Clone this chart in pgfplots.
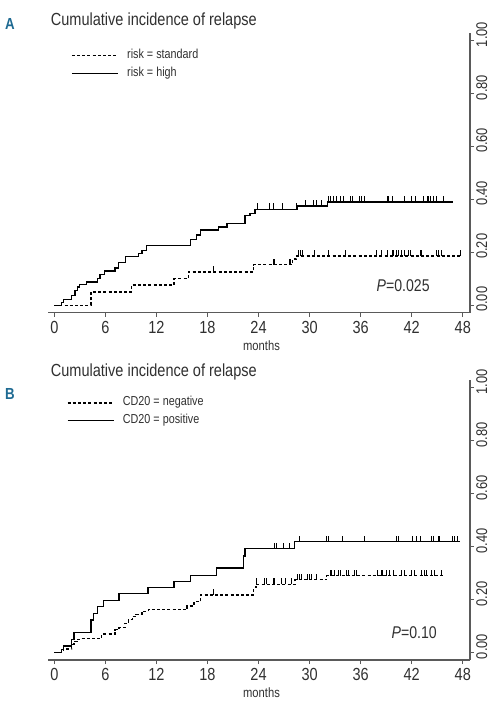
\documentclass[border=0pt]{standalone}
\usepackage{fontspec}
\setmainfont[FakeStretch=0.83]{Liberation Sans}
\usepackage{pgfplots}
\pgfplotsset{compat=1.18}
\definecolor{axgray}{HTML}{5A5A5A}
\definecolor{txtgray}{HTML}{303030}
\definecolor{panelblue}{HTML}{1E6A92}

\pgfdeclareplotmark{cens}{\pgfpathmoveto{\pgfpointorigin}\pgfpathlineto{\pgfpoint{0pt}{6pt}}\pgfusepathqstroke}

\pgfplotsset{
  kmaxis/.style={
    scale only axis, width=422pt, height=279.5pt,
    xmin=-0.74, xmax=48.85, ymin=-0.028, ymax=1.028,
    axis x line=bottom, axis y line=right,
    axis line style={-, axgray, line width=1.2pt},
    every tick/.style={axgray, line width=1pt},
    tick align=outside, major tick length=4pt,
    xtick={0,6,12,18,24,30,36,42,48},
    xticklabels={0,6,12,18,24,30,36,42,48},
    ytick={0,0.2,0.4,0.6,0.8,1},
    yticklabels={0.00,0.20,0.40,0.60,0.80,1.00},
    /pgf/number format/assume math mode=true,
    tick label style={text=txtgray, inner sep=0pt},
    xticklabel style={anchor=north, yshift=-4pt, font=\fontsize{17.5}{17.5}\selectfont},
    yticklabel style={xshift=2pt, yshift=6pt, rotate=90, anchor=north, font=\fontsize{15.5}{15.5}\selectfont},
    xlabel={months},
    xlabel style={at={(axis description cs:0.506,0)}, anchor=center, yshift=-33pt, font=\fontsize{13.5}{13.5}\selectfont, text=txtgray, inner sep=0pt},
    clip=false,
    legend cell align=left,
    legend image code/.code={\draw[##1] (0pt,0pt) -- (46pt,0pt); \path (54.7pt,0pt);},
    legend style={draw=none, fill=none, inner sep=0pt, row sep=5.7pt,
      font=\fontsize{13}{13}\selectfont, text=txtgray,
      nodes={inner sep=0pt, text height=9pt, text depth=3pt}},
  },
  solidc/.style={black, line width=1.3pt, const plot, mark=none},
  dashc/.style={black, line width=1.3pt, const plot, mark=none, dash pattern=on 3pt off 2.2pt},
  censmark/.style={only marks, mark=cens, black, mark options={solid, line width=0.9pt}, forget plot},
}

\begin{document}
\begin{tikzpicture}
\useasboundingbox (0,0) rectangle (495pt,701pt);

% ---------------- Panel A ----------------
\node[anchor=base west, inner sep=0pt, font=\bfseries\fontsize{16}{16}\selectfont, text=panelblue] at (5pt,671pt) {A};
\node[anchor=base west, inner sep=0pt, font=\fontsize{17.5}{17.5}\selectfont, text=txtgray] at (50.7pt,675pt) {Cumulative incidence of relapse};

\begin{axis}[kmaxis, at={(48pt,388.3pt)}, anchor=south west,
  legend style={at={(0.0545,0.942)}, anchor=north west}]
\addplot[dashc] coordinates {
(0,0) (4.3,0.050) (9.1,0.077) (14.07,0.101) (15.75,0.126) (23.4,0.153)
(28.0,0.175) (28.5,0.186) (47.9,0.186)};
\addlegendentry{risk = standard}
\addplot[solidc] coordinates {
(0,0) (0.87,0.010) (1.06,0.023) (2.04,0.038) (2.43,0.057) (2.7,0.069)
(3.0,0.078) (3.8,0.088) (5.1,0.101) (5.37,0.116) (5.88,0.129) (7.13,0.141)
(7.52,0.161) (8.4,0.183) (9.87,0.196) (10.3,0.208) (10.85,0.227) (16.0,0.249)
(16.7,0.265) (17.2,0.284) (19.3,0.296) (20.3,0.309) (22.4,0.340) (23.0,0.347)
(23.6,0.362) (28.6,0.375) (32.1,0.390) (46.8,0.390)};
\addlegendentry{risk = high}
\addplot[censmark] coordinates {
(18.7,0.126) (25.7,0.153) (25.9,0.153) (27.6,0.153) (27.8,0.153)
(28.7,0.186) (28.9,0.186) (29.2,0.186) (30.6,0.186) (32.2,0.186) (34.2,0.186)
(37.9,0.186) (38.5,0.186) (39.1,0.186) (39.7,0.186) (39.9,0.186) (40.2,0.186)
(40.4,0.186) (40.8,0.186) (41.2,0.186) (41.6,0.186) (41.8,0.186) (43.0,0.186)
(43.2,0.186) (44.9,0.186) (45.1,0.186) (45.5,0.186) (47.7,0.186)};
\addplot[censmark] coordinates {
(23.9,0.362) (25.3,0.362) (25.8,0.362) (26.8,0.362) (28.5,0.362)
(29.5,0.375) (30.4,0.375) (30.8,0.375) (31.4,0.375)
(32.2,0.39) (32.4,0.39) (32.8,0.39) (33.2,0.39) (33.6,0.39) (34.0,0.39)
(34.8,0.39) (35.0,0.39) (35.9,0.39) (36.1,0.39) (36.5,0.39) (39.1,0.39)
(39.3,0.39) (39.7,0.39) (41.2,0.39) (42.0,0.39) (42.4,0.39) (43.4,0.39)
(43.8,0.39) (44.0,0.39) (44.2,0.39) (44.6,0.39) (44.9,0.39) (45.7,0.39)};
\node[inner sep=0pt, font=\fontsize{17}{17}\selectfont, text=txtgray] at (axis cs:41.0,0.076) {\textit{P}=0.025};
\end{axis}

% ---------------- Panel B ----------------
\node[anchor=base west, inner sep=0pt, font=\bfseries\fontsize{16}{16}\selectfont, text=panelblue] at (5pt,301pt) {B};
\node[anchor=base west, inner sep=0pt, font=\fontsize{17.5}{17.5}\selectfont, text=txtgray] at (50.7pt,324.3pt) {Cumulative incidence of relapse};

\begin{axis}[kmaxis, at={(48pt,41pt)}, anchor=south west,
  legend style={at={(0.0443,0.942)}, anchor=north west}]
\addplot[dashc] coordinates {
(0,0) (1.06,0.013) (2.04,0.030) (2.3,0.042) (2.7,0.050) (3.0,0.054)
(5.56,0.070) (7.13,0.086) (7.6,0.095) (8.3,0.111) (8.7,0.124) (9.17,0.136)
(9.6,0.145) (10.3,0.155) (11.05,0.162) (15.6,0.176) (16.4,0.192) (17.2,0.218)
(23.4,0.245) (23.7,0.258) (28.3,0.275) (32.0,0.290) (45.7,0.290)};
\addlegendentry{CD20 = negative}
\addplot[solidc] coordinates {
(0,0) (0.87,0.012) (1.06,0.025) (2.04,0.050) (2.3,0.077) (4.3,0.123)
(4.6,0.148) (5.1,0.174) (5.8,0.197) (7.6,0.222) (11.0,0.245) (14.05,0.268)
(16.0,0.292) (19.1,0.320) (22.2,0.365) (22.4,0.392) (28.2,0.419) (47.7,0.419)};
\addlegendentry{CD20 = positive}
\addplot[censmark] coordinates {
(18.7,0.218) (23.75,0.258) (24.7,0.258) (24.9,0.258) (25.7,0.258) (25.9,0.258)
(26.7,0.258) (27.2,0.258) (27.9,0.258)
(28.6,0.275) (28.8,0.275) (29.0,0.275) (29.8,0.275) (30.0,0.275) (30.2,0.275) (30.8,0.275)
(32.4,0.29) (32.6,0.29) (32.9,0.29) (33.4,0.29) (33.6,0.29) (34.3,0.29) (34.6,0.29)
(35.3,0.29) (35.5,0.29) (38.0,0.29) (38.4,0.29) (38.6,0.29) (39.0,0.29) (39.4,0.29)
(39.8,0.29) (40.8,0.29) (41.2,0.29) (42.0,0.29) (42.3,0.29) (43.1,0.29) (43.5,0.29)
(43.7,0.29) (44.3,0.29) (44.7,0.29) (45.5,0.29)};
\addplot[censmark] coordinates {
(25.9,0.392) (26.1,0.392) (26.9,0.392) (27.6,0.392)
(28.8,0.419) (32.0,0.419) (32.2,0.419) (33.85,0.419) (36.5,0.419) (40.2,0.419)
(40.4,0.419) (42.1,0.419) (42.5,0.419) (43.0,0.419) (44.3,0.419) (44.6,0.419)
(45.1,0.419) (45.3,0.419) (46.8,0.419) (47.0,0.419) (47.4,0.419)};
\node[inner sep=0pt, font=\fontsize{17}{17}\selectfont, text=txtgray] at (axis cs:42.3,0.075) {\textit{P}=0.10};
\end{axis}
\end{tikzpicture}
\end{document}
